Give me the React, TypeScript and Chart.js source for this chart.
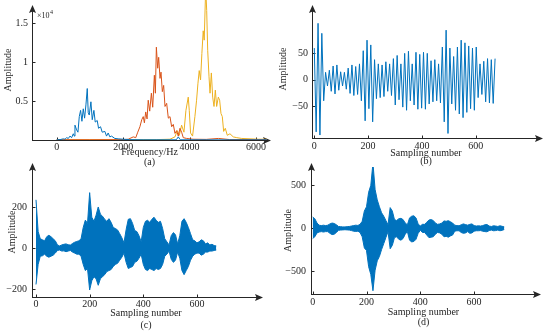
import React, { useEffect, useRef } from "react";
import { Chart, registerables } from "chart.js";

Chart.register(...registerables);

// ---------- data ----------
// (a) spectra, amplitude in units of 10^4
const A_X_TICKS = [0, 2000, 4000, 6000];
const A_Y_TICKS = [0.5, 1, 1.5];
const A_BLUE_FREQ = [0, 100, 200, 250, 300, 350, 400, 450, 500, 530, 550, 600, 640, 680, 720, 760, 800, 840, 880, 920, 950, 980, 1030, 1070, 1120, 1160, 1220, 1260, 1320, 1370, 1450, 1500, 1550, 1600, 1650, 1750, 1850, 2000, 2200, 2600, 3600, 3660, 3720, 4500, 6330];
const A_BLUE_AMP = [0.003, 0.005, 0.015, 0.01, 0.03, 0.02, 0.05, 0.03, 0.08, 0.05, 0.19, 0.13, 0.1, 0.3, 0.38, 0.24, 0.4, 0.28, 0.45, 0.66, 0.35, 0.32, 0.49, 0.26, 0.38, 0.23, 0.25, 0.15, 0.17, 0.1, 0.11, 0.05, 0.09, 0.04, 0.05, 0.02, 0.015, 0.01, 0.005, 0.003, 0.003, 0.04, 0.003, 0.002, 0.002];
const A_ORANGE_FREQ = [0, 1000, 2000, 2155, 2305, 2380, 2440, 2505, 2560, 2605, 2640, 2680, 2720, 2755, 2800, 2850, 2890, 2940, 2970, 3000, 3040, 3070, 3110, 3140, 3180, 3220, 3260, 3310, 3360, 3410, 3460, 3510, 3560, 3610, 3660, 3710, 3760, 3810, 3910, 4100, 4500, 4870, 5200, 6330];
const A_ORANGE_AMP = [0.003, 0.003, 0.005, 0.01, 0.04, 0.03, 0.1, 0.17, 0.26, 0.3, 0.22, 0.36, 0.27, 0.51, 0.37, 0.6, 0.42, 0.83, 0.6, 1.19, 0.92, 1.06, 0.79, 0.87, 0.62, 0.7, 0.43, 0.47, 0.28, 0.3, 0.17, 0.2, 0.085, 0.12, 0.05, 0.15, 0.1, 0.03, 0.02, 0.01, 0.008, 0.02, 0.006, 0.005];
const A_YELLOW_FREQ = [0, 1000, 2000, 3000, 3410, 3560, 3630, 3690, 3760, 3830, 3890, 3960, 3990, 4030, 4090, 4160, 4210, 4250, 4290, 4330, 4370, 4410, 4440, 4485, 4515, 4545, 4585, 4615, 4655, 4695, 4735, 4775, 4815, 4865, 4905, 4945, 4985, 5025, 5075, 5135, 5215, 5315, 5420, 5570, 5820, 6070, 6330];
const A_YELLOW_AMP = [0.003, 0.003, 0.004, 0.005, 0.01, 0.04, 0.12, 0.06, 0.19, 0.1, 0.38, 0.55, 0.38, 0.09, 0.05, 0.3, 0.51, 0.72, 0.89, 0.77, 1.11, 1.4, 1.28, 1.95, 1.66, 1.15, 0.81, 0.6, 0.86, 0.55, 0.43, 0.64, 0.43, 0.55, 0.51, 0.34, 0.3, 0.11, 0.15, 0.06, 0.08, 0.04, 0.03, 0.02, 0.015, 0.01, 0.01];

// (b) waveform extremes, one every B_STEP samples
const SAMPLE_TICKS = [0, 200, 400, 600];
const B_Y_TICKS = [-50, 0, 50];
const B_STEP = 7;
const B_VALUES = [60, -99, 107, -105, 88, -40, 14, -12, 18, -22, 26, -27, 28, -20, 15, -12, 14, -18, 22, -26, 28, -30, 25, -28, 30, -40, 55, -78, 75, -55, 66, -80, 38, -36, 30, -34, 28, -32, 34, -22, 30, -30, 40, -48, 46, -38, 30, -52, 50, -58, 54, -40, 30, -48, 52, -56, 48, -54, 52, -56, 50, -46, 36, -42, 38, -40, 30, -44, 62, -80, 94, -102, 60, -46, 44, -58, 62, -65, 75, -72, 70, -62, 64, -55, 60, -58, 62, -34, 30, -28, 35, -42, 40, -44, 38, -45, 40];

// (c) dense waveform envelope, one value every C_STEP samples
const C_Y_TICKS = [-200, 0, 200];
const C_STEP = 8;
const C_UPPER = [235, 80, 45, 40, 35, 55, 62, 55, 45, 35, 15, 10, 15, 18, 20, 16, 14, 22, 28, 32, 35, 45, 100, 136, 120, 270, 150, 130, 160, 200, 165, 155, 140, 130, 143, 125, 100, 95, 88, 70, 50, 25, 90, 140, 143, 120, 85, 80, 60, 30, 100, 130, 135, 125, 140, 150, 135, 125, 130, 95, 45, 30, 15, 60, 75, 65, 20, 60, 130, 143, 125, 100, 70, 40, 35, 25, 30, 40, 35, 20, 25, 15, 18, 12, 10];
const C_LOWER = [-178, -80, -40, -38, -30, -40, -45, -40, -35, -25, -12, -10, -15, -14, -18, -15, -12, -20, -25, -30, -30, -40, -80, -110, -100, -205, -160, -140, -150, -182, -150, -140, -130, -115, -110, -105, -90, -80, -75, -60, -45, -25, -70, -100, -95, -90, -70, -65, -50, -30, -80, -105, -110, -100, -105, -110, -100, -105, -100, -80, -40, -30, -15, -55, -70, -60, -20, -50, -110, -130, -110, -90, -60, -40, -30, -25, -25, -35, -30, -20, -20, -15, -15, -12, -10];

// (d) dense waveform envelope, one value every D_STEP samples
const D_Y_TICKS = [-500, 0, 500];
const D_STEP = 8;
const D_UPPER = [130, 110, 60, 35, 30, 35, 30, 35, 50, 60, 55, 40, 20, 18, 15, 15, 18, 20, 25, 30, 35, 32, 45, 80, 200, 250, 420, 500, 760, 450, 330, 250, 180, 140, 90, 40, 240, 200, 100, 90, 110, 115, 100, 60, 40, 120, 140, 145, 120, 50, 25, 45, 45, 70, 95, 100, 90, 60, 45, 50, 60, 85, 80, 88, 75, 60, 35, 30, 28, 40, 50, 42, 35, 45, 50, 30, 25, 28, 25, 30, 40, 42, 25, 20, 28, 25, 20, 28, 22, 15];
const D_LOWER = [-120, -100, -55, -45, -40, -45, -40, -40, -60, -75, -70, -50, -25, -22, -20, -18, -20, -22, -28, -35, -38, -35, -50, -100, -230, -260, -450, -540, -730, -490, -380, -330, -250, -180, -110, -40, -240, -200, -110, -100, -130, -140, -120, -70, -40, -140, -160, -155, -130, -60, -25, -50, -50, -80, -110, -105, -100, -70, -50, -55, -70, -100, -95, -105, -90, -80, -35, -30, -30, -50, -60, -55, -40, -60, -55, -35, -30, -30, -28, -35, -40, -42, -28, -22, -30, -28, -22, -30, -25, -15];

// ---------- styles ----------
const BLUE = "#0072BD";
const ORANGE = "#D95319";
const YELLOW = "#EDB120";
const TXT = "#262626";
const FONT = '"Liberation Serif", "Times New Roman", serif';
const W = 550;
const H = 334;

const pairs = (xs: number[], ys: number[]) => xs.map((x, i) => ({ x, y: ys[i] }));
const stepped = (step: number, ys: number[]) => ys.map((y, i) => ({ x: i * step, y }));
const fmt = (v: number) => (v < 0 ? "\u2212" + Math.abs(v) : String(v));

type Panel = {
  area: { l: number; t: number; r: number; b: number };
  yBoxLeft: number;
  xBoxBottom: number;
  xMin: number; xMax: number; yMin: number; yMax: number;
  xTicks: number[]; yTicks: number[];
  xTitle: string[]; xTitleLH: number; xTitlePadBottom: number;
  yTitlePadTop: number;
  xTickPad: number; yTickPad: number;
  xTip: number; yTip: number;
  datasets: any[];
  extra?: (ctx: CanvasRenderingContext2D) => void;
};

function axesPlugin(p: Panel) {
  return {
    id: "arrowAxes",
    beforeDatasetsDraw(chart: any) {
      const { ctx, chartArea } = chart;
      const xs = chart.scales.x;
      const ys = chart.scales.y;
      const left = chartArea.left + 0.5;
      const bottom = chartArea.bottom + 0.5;
      ctx.save();
      ctx.strokeStyle = TXT;
      ctx.fillStyle = TXT;
      ctx.lineWidth = 1;
      ctx.beginPath();
      ctx.moveTo(left, bottom);
      ctx.lineTo(left, p.yTip + 6);
      ctx.moveTo(left - 0.5, bottom);
      ctx.lineTo(p.xTip - 6, bottom);
      for (const v of p.xTicks) {
        const px = Math.round(xs.getPixelForValue(v)) + 0.5;
        ctx.moveTo(px, bottom);
        ctx.lineTo(px, bottom - 3);
      }
      for (const v of p.yTicks) {
        const py = Math.round(ys.getPixelForValue(v)) + 0.5;
        ctx.moveTo(left, py);
        ctx.lineTo(left + 3, py);
      }
      ctx.stroke();
      ctx.beginPath();
      ctx.moveTo(left, p.yTip);
      ctx.lineTo(left - 3.5, p.yTip + 8);
      ctx.lineTo(left, p.yTip + 6.5);
      ctx.lineTo(left + 3.5, p.yTip + 8);
      ctx.closePath();
      ctx.fill();
      ctx.beginPath();
      ctx.moveTo(p.xTip, bottom);
      ctx.lineTo(p.xTip - 8, bottom - 3.5);
      ctx.lineTo(p.xTip - 6.5, bottom);
      ctx.lineTo(p.xTip - 8, bottom + 3.5);
      ctx.closePath();
      ctx.fill();
      if (p.extra) p.extra(ctx);
      ctx.restore();
    },
  };
}

function makeConfig(p: Panel): any {
  const tickFont = { family: FONT, size: 10, lineHeight: 1.2 };
  return {
    type: "line",
    data: { datasets: p.datasets },
    options: {
      responsive: false,
      maintainAspectRatio: false,
      animation: false,
      devicePixelRatio: 1,
      events: [],
      layout: {
        padding: { left: p.yBoxLeft, top: p.area.t, right: W - p.area.r, bottom: H - p.xBoxBottom },
      },
      plugins: { legend: { display: false }, tooltip: { enabled: false } },
      elements: { point: { radius: 0 }, line: { tension: 0, borderWidth: 1 } },
      scales: {
        x: {
          type: "linear",
          min: p.xMin,
          max: p.xMax,
          grid: { display: false, drawTicks: false },
          border: { display: false },
          ticks: { autoSkip: false, maxRotation: 0, padding: p.xTickPad, font: tickFont, color: TXT, callback: (v: number) => fmt(v) },
          afterBuildTicks: (s: any) => { s.ticks = p.xTicks.map((v) => ({ value: v })); },
          afterFit: (s: any) => {
            s.height = p.xBoxBottom - p.area.b;
            s.paddingLeft = 0; s.paddingRight = 0; s.paddingTop = 0; s.paddingBottom = 0;
          },
          title: {
            display: true,
            text: p.xTitle,
            color: TXT,
            font: { family: FONT, size: 10, lineHeight: p.xTitleLH },
            padding: { top: 0, bottom: p.xTitlePadBottom },
          },
        },
        y: {
          type: "linear",
          min: p.yMin,
          max: p.yMax,
          grid: { display: false, drawTicks: false },
          border: { display: false },
          ticks: { autoSkip: false, padding: p.yTickPad, font: tickFont, color: TXT, callback: (v: number) => fmt(v) },
          afterBuildTicks: (s: any) => { s.ticks = p.yTicks.map((v) => ({ value: v })); },
          afterFit: (s: any) => {
            s.width = p.area.l - p.yBoxLeft;
            s.paddingLeft = 0; s.paddingRight = 0; s.paddingTop = 0; s.paddingBottom = 0;
          },
          title: {
            display: true,
            text: "Amplitude",
            color: TXT,
            font: { family: FONT, size: 10, lineHeight: 1 },
            padding: { top: p.yTitlePadTop, bottom: 0 },
          },
        },
      },
    },
    plugins: [axesPlugin(p)],
  };
}

const lineDs = (data: any[], color: string) => ({
  data, borderColor: color, backgroundColor: color, borderWidth: 1, pointRadius: 0, fill: false,
});
const envDs = (upper: any[], lower: any[]) => [
  { data: upper, borderColor: BLUE, backgroundColor: BLUE, borderWidth: 1, pointRadius: 0, fill: "+1" },
  { data: lower, borderColor: BLUE, backgroundColor: BLUE, borderWidth: 1, pointRadius: 0, fill: false },
];

const PANELS: Panel[] = [
  {
    area: { l: 32, t: 0, r: 267, b: 140 },
    yBoxLeft: 0, xBoxBottom: 167,
    xMin: -743, xMax: 6330, yMin: 0, yMax: 1.795,
    xTicks: A_X_TICKS, yTicks: A_Y_TICKS,
    xTitle: ["Frequency/Hz", "(a)"], xTitleLH: 1, xTitlePadBottom: 0,
    yTitlePadTop: 3, xTickPad: 1, yTickPad: 4,
    xTip: 271, yTip: 5,
    datasets: [
      lineDs(pairs(A_BLUE_FREQ, A_BLUE_AMP), BLUE),
      lineDs(pairs(A_ORANGE_FREQ, A_ORANGE_AMP), ORANGE),
      lineDs(pairs(A_YELLOW_FREQ, A_YELLOW_AMP), YELLOW),
    ],
    extra: (ctx) => {
      ctx.font = `8px ${FONT}`;
      ctx.textBaseline = "alphabetic";
      ctx.textAlign = "left";
      ctx.fillText("\u00d710", 37, 18);
      const w = ctx.measureText("\u00d710").width;
      ctx.font = `6px ${FONT}`;
      ctx.fillText("4", 37 + w + 0.5, 14);
    },
  },
  {
    area: { l: 312, t: 0, r: 540, b: 138 },
    yBoxLeft: 275, xBoxBottom: 167,
    xMin: -8.5, xMax: 839, yMin: -110.6, yMax: 151.2,
    xTicks: SAMPLE_TICKS, yTicks: B_Y_TICKS,
    xTitle: ["Sampling number", "(b)"], xTitleLH: 0.85, xTitlePadBottom: 1,
    yTitlePadTop: 3, xTickPad: 2, yTickPad: 4,
    xTip: 543, yTip: 5,
    datasets: [lineDs(stepped(B_STEP, B_VALUES), BLUE)],
  },
  {
    area: { l: 32, t: 167, r: 260, b: 297 },
    yBoxLeft: 0, xBoxBottom: 334,
    xMin: -14.9, xMax: 835, yMin: -239, yMax: 395,
    xTicks: SAMPLE_TICKS, yTicks: C_Y_TICKS,
    xTitle: ["Sampling number", "(c)"], xTitleLH: 1.2, xTitlePadBottom: 3,
    yTitlePadTop: 7, xTickPad: 1, yTickPad: 5,
    xTip: 263, yTip: 163,
    datasets: envDs(stepped(C_STEP, C_UPPER), stepped(C_STEP, C_LOWER)),
  },
  {
    area: { l: 311, t: 167, r: 536, b: 294 },
    yBoxLeft: 275, xBoxBottom: 334,
    xMin: -6.3, xMax: 830, yMin: -768, yMax: 714,
    xTicks: SAMPLE_TICKS, yTicks: D_Y_TICKS,
    xTitle: ["Sampling number", "(d)"], xTitleLH: 1, xTitlePadBottom: 7,
    yTitlePadTop: 8, xTickPad: 2, yTickPad: 5,
    xTip: 541, yTip: 163,
    datasets: envDs(stepped(D_STEP, D_UPPER), stepped(D_STEP, D_LOWER)),
  },
];

export default function App() {
  const refs = [useRef<HTMLCanvasElement>(null), useRef<HTMLCanvasElement>(null), useRef<HTMLCanvasElement>(null), useRef<HTMLCanvasElement>(null)];
  useEffect(() => {
    const charts = PANELS.map((p, i) => new Chart(refs[i].current as HTMLCanvasElement, makeConfig(p)));
    return () => charts.forEach((c) => c.destroy());
  }, []);
  return (
    <div style={{ position: "fixed", left: 0, top: 0, width: W, height: H, background: "#fff" }}>
      {refs.map((r, i) => (
        <canvas key={i} ref={r} width={W} height={H} style={{ position: "absolute", left: 0, top: 0, width: W, height: H }} />
      ))}
    </div>
  );
}
